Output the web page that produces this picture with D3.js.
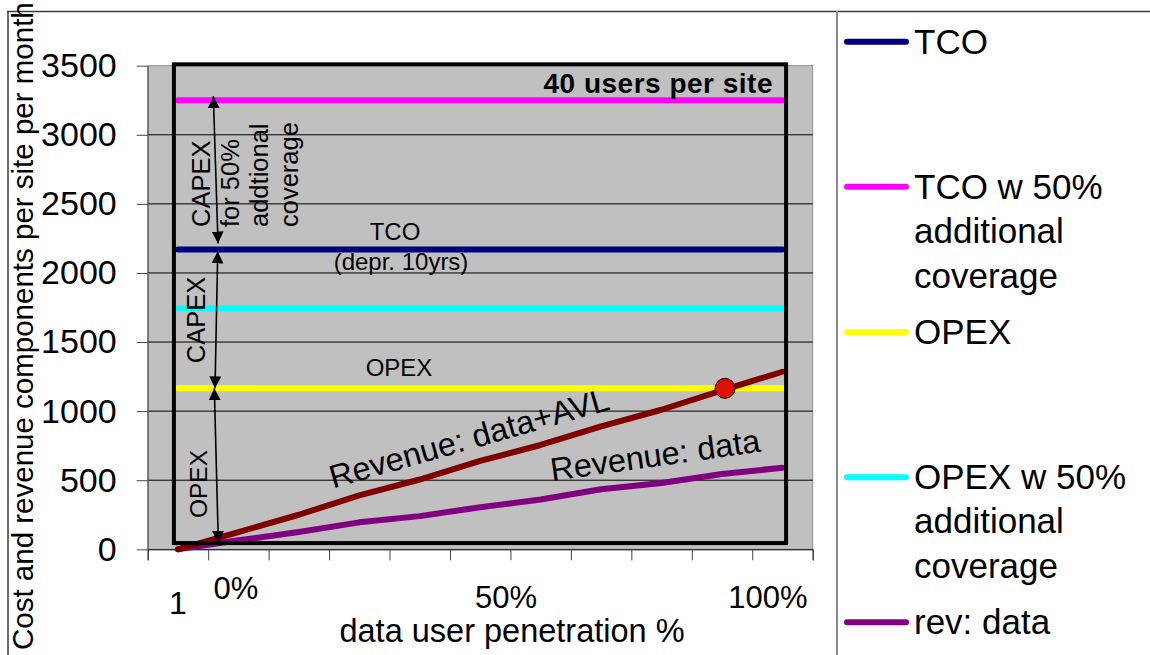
<!DOCTYPE html>
<html>
<head>
<meta charset="utf-8">
<script src="https://cdn.jsdelivr.net/npm/d3@7"></script>
<style>
  html, body { margin: 0; padding: 0; background: #ffffff; }
  svg { display: block; font-family: "Liberation Sans", Arial, Helvetica, sans-serif; }
</style>
</head>
<body>
<svg id="chart" width="1150" height="655"></svg>
<script>
// ---- data ----
const categories = ["1", "2", "3", "4", "5", "6", "7", "8", "9", "10", "11"];
const tco          = [2170, 2170, 2170, 2170, 2170, 2170, 2170, 2170, 2170, 2170, 2170];
const tcoCoverage  = [3250, 3250, 3250, 3250, 3250, 3250, 3250, 3250, 3250, 3250, 3250];
const opex         = [1165, 1165, 1165, 1165, 1165, 1165, 1165, 1165, 1165, 1165, 1165];
const opexCoverage = [1745, 1745, 1745, 1745, 1745, 1745, 1745, 1745, 1745, 1745, 1745];
const revData      = [0, 65, 125, 195, 240, 305, 360, 435, 480, 545, 590];
const revDataAvl   = [0, 125, 250, 390, 505, 640, 755, 890, 1010, 1150, 1285];
const yTicks = [0, 500, 1000, 1500, 2000, 2500, 3000, 3500];
const pctTicks = [0, 50, 100];
const pctLabels = ["0%", "50%", "100%"];
const breakEvenPos = 9.05;       // category position of the break-even point
const breakEvenValue = 1165;     // revenue equals OPEX

const seriesNames  = ["TCO", "TCO w 50% additional coverage", "OPEX", "OPEX w 50% additional coverage", "rev: data", "rev: data+AVL"];
const seriesValues = [tco, tcoCoverage, opex, opexCoverage, revData, revDataAvl];
const seriesColors = ["#000080", "#ff00ff", "#ffff00", "#00ffff", "#800080", "#800000"];
const legendLines  = [["TCO"], ["TCO w 50%", "additional", "coverage"], ["OPEX"], ["OPEX w 50%", "additional", "coverage"], ["rev: data"]];

// ---- layout ----
const svg = d3.select("#chart");
const plot = { left: 147.7, right: 812.7, top: 65.7, bottom: 549.3 };

const x = d3.scaleBand().domain(categories).range([plot.left, plot.right]).padding(0);
const xPos = p => x(categories[0]) + x.bandwidth() * (p + 0.5);
const xEdge = d3.scaleLinear().domain([0, categories.length]).range([plot.left, plot.right]);
const y = d3.scaleLinear().domain([0, 3500]).range([plot.bottom, plot.top]);

// outer frame and legend separator
svg.append("line").attr("x1", 7).attr("x2", 1150).attr("y1", 11.5).attr("y2", 11.5)
  .attr("stroke", "#3a3a3a").attr("stroke-width", 1.5);
svg.append("line").attr("x1", 8).attr("x2", 8).attr("y1", 11).attr("y2", 655)
  .attr("stroke", "#3a3a3a").attr("stroke-width", 1.5);
svg.append("line").attr("x1", 837).attr("x2", 837).attr("y1", 11).attr("y2", 655)
  .attr("stroke", "#8a8a8a").attr("stroke-width", 2);

// plot area
svg.append("rect").attr("x", plot.left).attr("y", plot.top)
  .attr("width", plot.right - plot.left).attr("height", plot.bottom - plot.top)
  .attr("fill", "#c0c0c0").attr("stroke", "#8c8c8c").attr("stroke-width", 1);

// gridlines
svg.append("g").selectAll("line").data(yTicks.filter(d => d > 0 && d < 3500)).join("line")
  .attr("x1", plot.left).attr("x2", plot.right)
  .attr("y1", d => y(d)).attr("y2", d => y(d))
  .attr("stroke", "#000").attr("stroke-width", 1);

// y axis
const yAxis = svg.append("g").attr("transform", `translate(${plot.left},0)`)
  .call(d3.axisLeft(y).tickValues(yTicks).tickSizeInner(11).tickSizeOuter(0).tickPadding(20).tickFormat(d3.format("d")));
yAxis.select(".domain").attr("stroke", "#555");
yAxis.selectAll(".tick line").attr("stroke", "#444");
yAxis.selectAll("text").attr("font-size", 34).attr("fill", "#000").attr("font-family", "Liberation Sans, Arial, sans-serif");

// x axis: ticks at category boundaries
const xAxis = svg.append("g").attr("transform", `translate(0,${plot.bottom})`)
  .call(d3.axisBottom(xEdge).tickValues(d3.range(categories.length + 1)).tickSize(11).tickFormat(""));
xAxis.select(".domain").attr("stroke", "#000");
xAxis.selectAll(".tick line").attr("stroke", "#444");

// category label (first only)
const xLab = svg.append("g").attr("transform", `translate(0,${plot.bottom})`)
  .call(d3.axisBottom(x).tickSize(0).tickPadding(42).tickFormat((d, i) => i === 0 ? d : ""));
xLab.select(".domain").remove();
xLab.selectAll("text").attr("font-size", 32).attr("fill", "#000").attr("font-family", "Liberation Sans, Arial, sans-serif");

// penetration labels
const pct = d3.scaleLinear().domain([0, 100]).range([236, 768]);
svg.append("g").selectAll("text").data(pctTicks).join("text")
  .attr("x", d => pct(d) + (d === 50 ? 4 : 0)).attr("y", (d, i) => i === 0 ? 599 : 608)
  .attr("text-anchor", "middle").attr("font-size", 31).attr("fill", "#000")
  .text((d, i) => pctLabels[i]);

// axis titles
svg.append("text").attr("x", 512).attr("y", 642).attr("text-anchor", "middle")
  .attr("font-size", 32.5).attr("fill", "#000").text("data user penetration %");
svg.append("text").attr("transform", "translate(33,650) rotate(-90)")
  .attr("text-anchor", "start").attr("font-size", 29.5).attr("fill", "#000")
  .text("Cost and revenue components per site per month");

// series lines
const line = d3.line().x((d, i) => xPos(i)).y(d => y(d));
svg.append("g").selectAll("path").data(seriesValues).join("path")
  .attr("d", d => line(d))
  .attr("fill", "none")
  .attr("stroke", (d, i) => seriesColors[i])
  .attr("stroke-width", 6)
  .attr("stroke-linejoin", "round")
  .attr("stroke-linecap", "round");

// break-even marker
svg.append("circle").attr("cx", xPos(breakEvenPos)).attr("cy", y(breakEvenValue)).attr("r", 10)
  .attr("fill", "#dd1100").attr("stroke", "#000").attr("stroke-width", 1);

// heavy frame around the data region
const fx0 = xPos(0) - 4, fx1 = xPos(categories.length - 1) + 3.6;
const fy0 = y(3510), fy1 = y(45);
svg.append("rect").attr("x", fx0).attr("y", fy0).attr("width", fx1 - fx0).attr("height", fy1 - fy0)
  .attr("fill", "none").attr("stroke", "#000").attr("stroke-width", 4);

// dimension arrows between cost levels
const defs = svg.append("defs");
defs.append("marker").attr("id", "head").attr("viewBox", "0 0 12 12")
  .attr("refX", 12).attr("refY", 6).attr("markerWidth", 12).attr("markerHeight", 12)
  .attr("markerUnits", "userSpaceOnUse").attr("orient", "auto-start-reverse")
  .append("path").attr("d", "M0,0 L12,6 L0,12 Z").attr("fill", "#000");
const ax = xPos(0);
const arrows = [
  { xa: ax + 35.4, ya: y(tcoCoverage[0]) - 4, xb: ax + 40.1, yb: y(tco[0]) - 6 },
  { xa: ax + 39.8, ya: y(tco[0]) + 2,         xb: ax + 37.1, yb: y(opex[0]) },
  { xa: ax + 36.4, ya: y(opex[0]),            xb: ax + 40.4, yb: y(0) - 6.5 }
];
svg.append("g").selectAll("line").data(arrows).join("line")
  .attr("x1", d => d.xa).attr("y1", d => d.ya).attr("x2", d => d.xb).attr("y2", d => d.yb)
  .attr("stroke", "#000").attr("stroke-width", 1.6)
  .attr("marker-start", "url(#head)").attr("marker-end", "url(#head)");

// in-plot annotations
const ann = svg.append("g").attr("fill", "#000");
ann.append("text").attr("x", 773).attr("y", 93).attr("text-anchor", "end")
  .attr("font-size", 28).attr("font-weight", "bold").attr("letter-spacing", 0.5).text("40 users per site");
ann.append("text").attr("x", 395).attr("y", 240).attr("text-anchor", "middle").attr("font-size", 24).text("TCO");
ann.append("text").attr("x", 401).attr("y", 270).attr("text-anchor", "middle").attr("font-size", 24).text("(depr. 10yrs)");
ann.append("text").attr("x", 399).attr("y", 376).attr("text-anchor", "middle").attr("font-size", 24).text("OPEX");
ann.append("text").attr("transform", "translate(206.5,484) rotate(-90)").attr("text-anchor", "middle")
  .attr("font-size", 24.5).text("OPEX");
ann.append("text").attr("transform", "translate(205,320) rotate(-90)").attr("text-anchor", "middle")
  .attr("font-size", 25.5).text("CAPEX");
const capexLines = ["CAPEX", "for 50%", "addtional", "coverage"];
ann.append("g").selectAll("text").data(capexLines).join("text")
  .attr("transform", (d, i) => `translate(${210 + i * 29.2},227) rotate(-90)`)
  .attr("text-anchor", "start").attr("font-size", 25.5).text(d => d);
ann.append("text").attr("transform", "translate(333,488.5) rotate(-15.9)")
  .attr("font-size", 32.5).text("Revenue: data+AVL");
ann.append("text").attr("transform", "translate(552,481) rotate(-8)")
  .attr("font-size", 32.5).text("Revenue: data");

// legend
const legend = svg.append("g");
legendLines.forEach((lines, i) => {
  const ly = 41.7 + i * 145.15;
  legend.append("line").attr("x1", 847).attr("x2", 906).attr("y1", ly).attr("y2", ly)
    .attr("stroke", seriesColors[i]).attr("stroke-width", 6).attr("stroke-linecap", "round");
  legend.append("g").selectAll("text").data(lines).join("text")
    .attr("x", 914).attr("y", (d, j) => ly + 11.8 + j * 44.5)
    .attr("font-size", 35).attr("fill", "#000").text(d => d);
});
</script>
</body>
</html>
